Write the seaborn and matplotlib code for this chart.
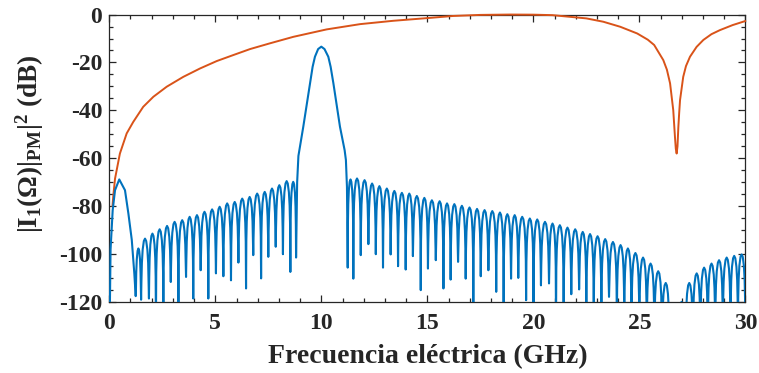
import matplotlib
matplotlib.use("Agg")
import matplotlib.pyplot as plt
import numpy as np
import pandas as pd
import seaborn as sns
from matplotlib.ticker import MultipleLocator

# ---------------- data ----------------
# Orange curve |...|^2 (PM), frequency in GHz, level in dB
pm_freq = [0.15, 0.19, 0.27, 0.50, 0.82, 1.13, 1.60, 2.08, 2.71, 3.49,
           4.28, 5.07, 5.85, 6.64, 7.58, 8.68, 10.25, 11.83, 13.40, 14.97, 16.20,
           17.50, 18.90, 20.00, 20.90, 22.50, 23.30, 24.10, 24.90, 25.40, 25.70,
           26.13, 26.30, 26.45, 26.60, 26.68, 26.72, 26.76, 26.80, 26.84, 26.88,
           26.92, 27.07, 27.20, 27.39, 27.70, 28.02, 28.40, 28.80, 29.40, 30.00]
pm_db = [-80.0, -75.5, -68.5, -58.0, -49.6, -44.8, -38.5, -34.3, -30.1, -26.0,
         -22.5, -19.4, -16.9, -14.4, -12.0, -9.3, -6.2, -4.0, -2.6, -1.5, -0.6,
         -0.15, 0.0, -0.05, -0.25, -1.6, -3.0, -5.1, -7.9, -10.5, -12.7,
         -19.0, -23.0, -28.7, -39.9, -51.0, -56.0, -58.0, -55.0, -47.0, -41.0,
         -35.7, -26.0, -21.5, -17.6, -13.5, -10.6, -8.2, -6.5, -4.4, -2.7]

# Blue curve: first (baseband) lobe
first_lobe_freq = [0.00, 0.03, 0.06, 0.16, 0.27, 0.47, 0.74, 0.90, 1.06, 1.18]
first_lobe_db = [-130.0, -120.0, -98.0, -81.6, -73.3, -68.8, -73.3, -83.0, -94.0, -108.0]

# Blue curve: side lobes below the main lobe (null positions, null depths, lobe peaks)
left_null_ghz = [1.245, 1.50, 1.87, 2.20, 2.55, 2.90, 3.26, 3.62, 3.96, 4.31, 4.67, 5.03,
                 5.38, 5.74, 6.09, 6.45, 6.79, 7.16, 7.50, 7.85, 8.19, 8.54, 8.81]
left_null_db = [-117.5, -119.0, -118.5, -130.0, -130.0, -111.6, -130.0, -109.5, -118.5,
                -106.7, -118.5, -108.0, -109.2, -110.9, -103.5, -114.3, -100.4, -110.1,
                -101.1, -96.9, -100.0, -107.4, -101.4]
left_peak_db = [-97.6, -93.5, -91.4, -89.6, -88.2, -86.5, -85.8, -84.4, -83.7, -82.3, -81.3,
                -80.2, -78.8, -78.2, -76.8, -76.1, -74.7, -74.0, -72.6, -71.2, -69.5, -69.8]

# Blue curve: main lobe around 10 GHz
main_lobe_freq = [8.86, 8.92, 9.15, 9.47, 9.59, 9.70, 9.85, 10.00, 10.15, 10.33, 10.44,
                  10.57, 10.88, 11.10, 11.16, 11.21]
main_lobe_db = [-70.0, -59.0, -46.8, -28.7, -21.8, -17.6, -14.4, -13.4, -14.4, -17.6, -21.8,
                -28.7, -46.8, -56.6, -60.7, -72.0]

# Blue curve: side lobes above the main lobe
right_null_ghz = [11.245, 11.51, 11.86, 12.22, 12.57, 12.91, 13.27, 13.62, 13.98, 14.32,
                  14.69, 15.03, 15.40, 15.76, 16.10, 16.45, 16.81, 17.17, 17.52, 17.88,
                  18.25, 18.60, 18.95, 19.29, 19.66, 20.01, 20.36, 20.74, 21.07, 21.43,
                  21.79, 22.16, 22.50, 22.85, 23.21, 23.57, 23.94, 24.29, 24.63, 25.00,
                  25.35, 25.71, 26.07, 26.42, 26.80, 27.18, 27.53, 27.88, 28.23, 28.58,
                  28.94, 29.30, 29.65, 30.00]
right_null_db = [-105.6, -110.2, -100.4, -95.8, -100.0, -105.6, -100.1, -105.0, -106.4, -100.8,
                 -115.0, -106.0, -102.5, -114.3, -110.6, -103.2, -110.2, -130.0, -109.2, -106.7,
                 -115.7, -130.0, -110.2, -109.9, -119.2, -130.0, -113.0, -112.2, -130.0, -130.0,
                 -116.7, -114.7, -130.0, -130.0, -130.0, -117.8, -130.0, -130.0, -130.0, -130.0,
                 -130.0, -130.0, -130.0, -130.0, -130.0, -130.0, -130.0, -130.0, -130.0, -130.0,
                 -130.0, -130.0, -130.0, -130.0]
right_peak_db = [-68.8, -68.4, -69.1, -70.5, -71.6, -72.6, -73.6, -74.4, -74.7, -75.7,
                 -76.5, -77.5, -77.9, -78.8, -79.1, -79.8, -80.5, -81.1, -81.6, -82.0,
                 -82.6, -83.3, -83.7, -84.4, -85.1, -85.5, -86.5, -87.2, -87.9, -88.9,
                 -89.6, -90.7, -91.6, -92.5, -93.7, -94.9, -96.2, -97.6, -99.5, -101.4,
                 -103.9, -107.1, -112.0, -124.0, -119.9, -112.0, -108.0, -105.6, -103.9, -102.5,
                 -101.4, -100.7, -100.1]

x_ticks = [0, 5, 10, 15, 20, 25, 30]
y_ticks = [-120, -100, -80, -60, -40, -20, 0]

# ---------------- drawing style: rounded shape of one side lobe ----------------
LOBE_FRAC = [0.04, 0.10, 0.20, 0.35, 0.50, 0.65, 0.80, 0.90, 0.96]
LOBE_SHAPE_DB = [-18.0, -10.2, -4.6, -1.0, 0.0, -1.0, -4.6, -10.2, -18.0]


def lobe_vertices(nulls, null_db, peak_db):
    xs, ys = [], []
    for i, p in enumerate(peak_db):
        a, b = nulls[i], nulls[i + 1]
        xs.append(a)
        ys.append(null_db[i])
        for f, d in zip(LOBE_FRAC, LOBE_SHAPE_DB):
            xs.append(a + f * (b - a))
            ys.append(p + d)
    xs.append(nulls[-1])
    ys.append(null_db[-1])
    return xs, ys


lx, ly = lobe_vertices(left_null_ghz, left_null_db, left_peak_db)
rx, ry = lobe_vertices(right_null_ghz, right_null_db, right_peak_db)
blue_x = list(first_lobe_freq) + lx + list(main_lobe_freq) + rx
blue_y = list(first_lobe_db) + ly + list(main_lobe_db) + ry

df_blue = pd.DataFrame({"f": blue_x, "db": blue_y})
df_pm = pd.DataFrame({"f": pm_freq, "db": pm_db})

# ---------------- figure ----------------
sns.set_theme(style="ticks")
plt.rcParams["font.family"] = ["Liberation Serif", "DejaVu Serif"]
plt.rcParams["font.weight"] = "bold"
plt.rcParams["axes.unicode_minus"] = False
plt.rcParams["mathtext.fontset"] = "custom"
plt.rcParams["mathtext.rm"] = "Liberation Serif:bold"
plt.rcParams["mathtext.it"] = "Liberation Serif:bold"
plt.rcParams["mathtext.bf"] = "Liberation Serif:bold"

fig = plt.figure(figsize=(7.59, 3.73), dpi=100)
ax = fig.add_axes([0.144, 0.190, 0.838, 0.771])

sns.lineplot(data=df_pm, x="f", y="db", ax=ax, color="#D95319", lw=1.4,
             estimator=None, sort=False, zorder=3, clip_on=False)
sns.lineplot(data=df_blue, x="f", y="db", ax=ax, color="#0072BD", lw=1.5,
             estimator=None, sort=False, zorder=4)

ax.set_xlim(0, 30)
ax.set_ylim(-120, 0)
ax.set_xticks(x_ticks)
ax.set_yticks(y_ticks)
ax.xaxis.set_minor_locator(MultipleLocator(1))
ax.yaxis.set_minor_locator(MultipleLocator(5))
ax.tick_params(which="both", direction="in", top=True, right=True,
               colors="#262626", width=0.9, labelsize=17)
ax.tick_params(which="major", length=5)
ax.tick_params(which="minor", length=3)
ax.tick_params(axis="x", which="major", pad=8, labelcolor="#262626")
ax.tick_params(axis="y", which="major", pad=5, labelcolor="#262626")
for lab in ax.get_xticklabels() + ax.get_yticklabels():
    lab.set_fontweight("bold")
for s in ax.spines.values():
    s.set_color("#262626")
    s.set_linewidth(0.9)

ax.set_xlabel("Frecuencia eléctrica (GHz)", fontsize=20, fontweight="bold",
              color="#262626", labelpad=7)
ax.set_ylabel(r"$|\mathrm{I}_1(\Omega)|_{\mathrm{PM}}|^2$ (dB)", fontsize=19.5,
              fontweight="bold", color="#262626")
ax.yaxis.set_label_coords(-0.1, 0.55)

fig.savefig("out.png", dpi=100)
